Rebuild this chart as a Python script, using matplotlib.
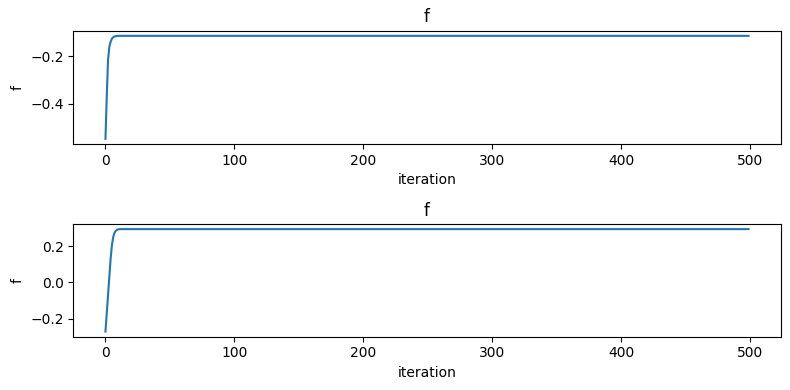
import matplotlib
matplotlib.use("Agg")
import matplotlib.pyplot as plt

n_iter = 500
top_early = [-0.547, -0.37, -0.215, -0.16, -0.138, -0.125, -0.119, -0.116, -0.114, -0.1135]
top_plateau = -0.113
bottom_early = [-0.272, -0.17, -0.07, 0.03, 0.13, 0.205, 0.25, 0.274, 0.286, 0.291, 0.294, 0.295]
bottom_plateau = 0.295

top_vals = top_early + [top_plateau] * (n_iter - len(top_early))
bottom_vals = bottom_early + [bottom_plateau] * (n_iter - len(bottom_early))
iterations = list(range(n_iter))

W, H = 790, 390
fig = plt.figure(figsize=(W / 100, H / 100), dpi=100)
left, right = 73.3, 780.7
boxes = [(30.7, 144.0), (224.0, 336.7)]
axes = []
for top, bot in boxes:
    axes.append(fig.add_axes([left / W, 1 - bot / H, (right - left) / W, (bot - top) / H]))

for ax, vals in zip(axes, [top_vals, bottom_vals]):
    ax.plot(iterations, vals, color="#1f77b4")
    ax.set_title("f")
    ax.set_xlabel("iteration")
    ax.set_ylabel("f")
fig.savefig("out.png", dpi=100)
